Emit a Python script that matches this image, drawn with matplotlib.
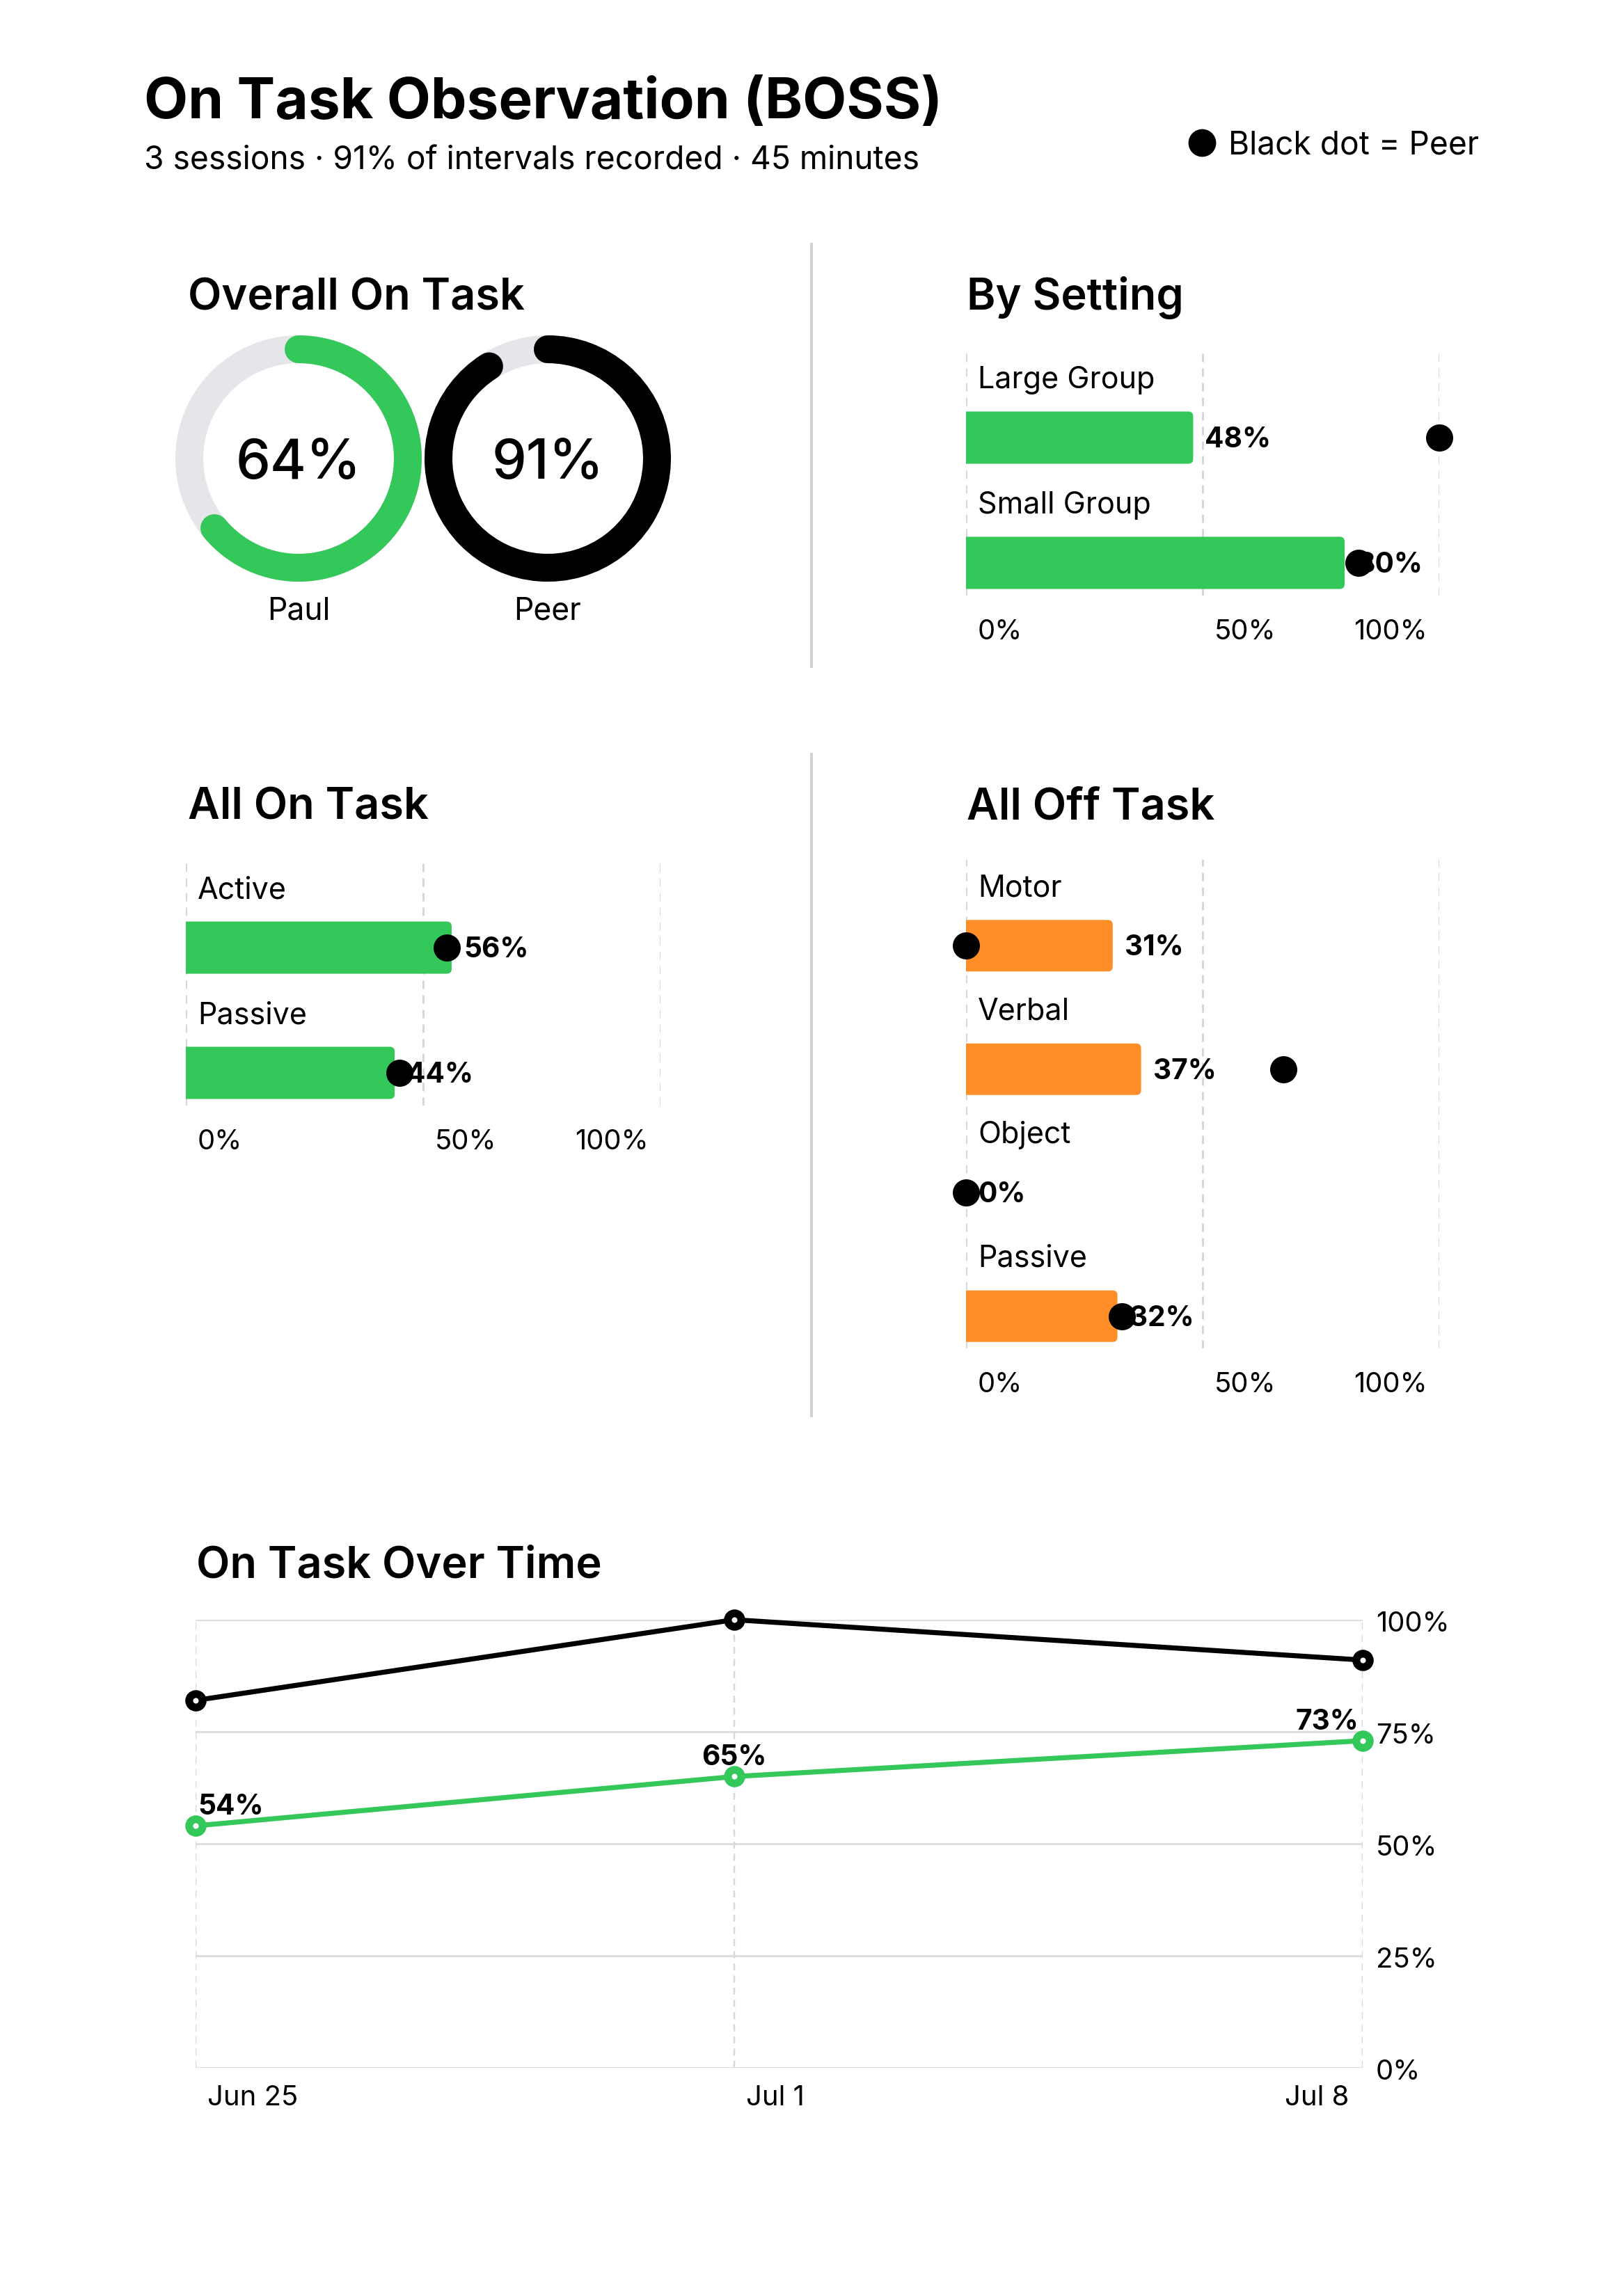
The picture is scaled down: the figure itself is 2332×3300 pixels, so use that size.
import matplotlib
matplotlib.use("Agg")
import matplotlib.pyplot as plt
from matplotlib.patches import Arc, Circle, FancyBboxPatch
from matplotlib.lines import Line2D
from matplotlib.transforms import offset_copy, blended_transform_factory
from datetime import datetime

# ---------------- data ----------------
title = "On Task Observation (BOSS)"
subtitle = "3 sessions \u00b7 91% of intervals recorded \u00b7 45 minutes"
legend_text = "Black dot = Peer"

donut_names = ["Paul", "Peer"]
donut_values = [64, 91]

setting_cats = ["Large Group", "Small Group"]
setting_paul = [48, 80]
setting_peer = [100, 83]

on_cats = ["Active", "Passive"]
on_paul = [56, 44]
on_peer = [55, 45]

off_cats = ["Motor", "Verbal", "Object", "Passive"]
off_paul = [31, 37, 0, 32]
off_peer = [0, 67, 0, 33]

time_dates = ["2025-06-25", "2025-07-01", "2025-07-08"]
time_labels = ["Jun 25", "Jul 1", "Jul 8"]
time_paul = [54, 65, 73]
time_peer = [82, 100, 91]

pct_ticks = [0, 50, 100]
time_yticks = [0, 25, 50, 75, 100]

# ---------------- style ----------------
W, H, DPI = 2332, 3300, 200
PX = 72.0 / DPI  # points per pixel
GREEN = "#34C759"
ORANGE = "#FF8D28"
TRACK = "#E5E5EA"
GRID = "#D8D8DC"
HGRID = "#DEDEDE"
DIV = "#D1D1D6"

FS_LABEL = 15.5
FS_TICK = 14.4
FS_VALUE = 14.6

plt.rcParams["font.family"] = ["Inter", "DejaVu Sans"]

fig = plt.figure(figsize=(W / DPI, H / DPI), dpi=DPI)
fig.patch.set_facecolor("white")


def add_ax(l, t, r, b):
    return fig.add_axes([l / W, 1 - b / H, (r - l) / W, (b - t) / H])


def ftext(x, y, s, **kw):
    kw.setdefault("va", "baseline")
    return fig.text(x / W, 1 - y / H, s, **kw)


def off(ax_tr, dx, dy):
    return offset_copy(ax_tr, fig=fig, x=dx * PX, y=dy * PX, units="points")


# ---------------- header ----------------
ftext(207, 170, title, fontsize=29.5, fontweight="bold")
ftext(207, 243, subtitle, fontsize=16.6)
fig.add_artist(Line2D([1727 / W], [1 - 205 / H], marker="o", ms=37 * PX,
                      color="black", lw=0, transform=fig.transFigure))
ftext(1765, 221, legend_text, fontsize=16.6)

# dividers
for y0, y1 in [(351, 958), (1084, 2035)]:
    fig.add_artist(Line2D([1166 / W, 1166 / W], [1 - y0 / H, 1 - y1 / H],
                          color=DIV, lw=4 * PX, transform=fig.transFigure))

# section titles
for x, y, s in [(270, 445, "Overall On Task"), (1389, 445, "By Setting"),
                (270, 1177, "All On Task"), (1389, 1177, "All Off Task"),
                (282, 2268, "On Task Over Time")]:
    ftext(x, y, s, fontsize=22.7, fontweight="semibold")

# ---------------- donuts ----------------
CY = 659
for name, val, cx, col in zip(donut_names, donut_values, [429, 787], [GREEN, "black"]):
    ax = add_ax(cx - 200, CY - 200, cx + 200, CY + 200)
    ax.set_xlim(-200, 200)
    ax.set_ylim(-200, 200)
    ax.set_aspect("equal")
    ax.axis("off")
    ax.add_patch(Circle((0, 0), 157, fill=False, ec=TRACK, lw=40 * PX))
    ax.add_patch(Arc((0, 0), 314, 314, theta1=90 - 3.6 * val, theta2=90,
                     ec=col, lw=40 * PX, capstyle="round"))
    ax.text(0, 0, f"{val}%", transform=off(ax.transData, 0, -29),
            ha="center", va="baseline", fontsize=28.5, fontweight="medium")
    ftext(cx, 890, name, ha="center", fontsize=16)


# ---------------- bar panels ----------------
def bar_panel(l, t, r, pitch, cats, vals, peer, color):
    n = len(cats)
    b = t + (n - 1 + 0.96) * pitch
    ax = add_ax(l, t, r, b)
    ax.set_xlim(0, 100)
    ax.set_ylim(n - 1 + 0.26, -0.70)
    ax.axis("off")
    ypos = list(range(n))
    for x in pct_ticks:
        ax.axvline(x, color=GRID, lw=3 * PX, ls=(0, (4, 3)), zorder=0)
    bars = ax.barh(ypos, vals, height=0.417, color=color, lw=0, zorder=2)
    xpp = 100.0 / (r - l)
    ypp = 1.0 / pitch
    rad = 7 * xpp
    for rect in bars:
        x0, y0, w, h = rect.get_x(), rect.get_y(), rect.get_width(), rect.get_height()
        rect.set_visible(False)
        if w <= 0:
            continue
        p = FancyBboxPatch((x0 - 2 * rad, y0), w + 2 * rad, h,
                           boxstyle=f"round,pad=0,rounding_size={rad}",
                           mutation_aspect=ypp / xpp, fc=color, ec="none", zorder=2)
        ax.add_patch(p)
    for i, (c, v) in enumerate(zip(cats, vals)):
        ax.text(0, i, c, transform=off(ax.transData, 17, 71), ha="left",
                va="baseline", fontsize=FS_LABEL)
        ax.text(v, i, f"{v}%", transform=off(ax.transData, 17, -14), ha="left",
                va="baseline", fontsize=FS_VALUE, fontweight="bold", zorder=3)
    ax.scatter(peer, ypos, s=(39 * PX) ** 2, color="black", lw=0, zorder=5, clip_on=False)
    bt = blended_transform_factory(ax.transData, ax.transAxes)
    for k, x in enumerate(pct_ticks):
        last = k == len(pct_ticks) - 1
        ax.text(x, 0, f"{x}%", transform=off(bt, -17 if last else 17, -63),
                ha="right" if last else "left", va="baseline", fontsize=FS_TICK)
    return ax


bar_panel(1388, 503, 2068, 180, setting_cats, setting_paul, setting_peer, GREEN)
bar_panel(267, 1236, 949, 180, on_cats, on_paul, on_peer, GREEN)
bar_panel(1388, 1235, 2068, 177.5, off_cats, off_paul, off_peer, ORANGE)

# ---------------- line chart ----------------
dts = [datetime.strptime(d, "%Y-%m-%d") for d in time_dates]
ax = add_ax(281, 2328, 1958, 2972)
ax.set_xlim(dts[0], dts[-1])
ax.set_ylim(0, 100)
ax.axis("off")
for y in time_yticks:
    ax.axhline(y, color=HGRID, lw=3 * PX, zorder=0)
for d in dts:
    ax.axvline(d, color=GRID, lw=2.5 * PX, ls=(0, (4, 3)), zorder=0)
ax.plot(dts, time_peer, color="black", lw=2.6, marker="o", ms=7.0, mew=4.0,
        mfc="white", mec="black", clip_on=False, zorder=3)
ax.plot(dts, time_paul, color=GREEN, lw=2.6, marker="o", ms=7.0, mew=4.0,
        mfc="white", mec=GREEN, clip_on=False, zorder=3)
n = len(dts)
for k, (d, v) in enumerate(zip(dts, time_paul)):
    ha = "left" if k == 0 else ("right" if k == n - 1 else "center")
    dx = 3 if k == 0 else (-6 if k == n - 1 else 0)
    ax.text(d, v, f"{v}%", transform=off(ax.transData, dx, 16), ha=ha,
            va="baseline", fontsize=FS_VALUE, fontweight="bold", zorder=4)
by = blended_transform_factory(ax.transAxes, ax.transData)
for y in time_yticks:
    ax.text(1, y, f"{y}%", transform=off(by, 19, -17), ha="left", va="baseline",
            fontsize=FS_TICK)
bx = blended_transform_factory(ax.transData, ax.transAxes)
for k, (d, lab) in enumerate(zip(dts, time_labels)):
    last = k == n - 1
    ax.text(d, 0, lab, transform=off(bx, -20 if last else 17, -54),
            ha="right" if last else "left", va="baseline", fontsize=FS_TICK)

fig.savefig("out.png", dpi=DPI, facecolor="white")
